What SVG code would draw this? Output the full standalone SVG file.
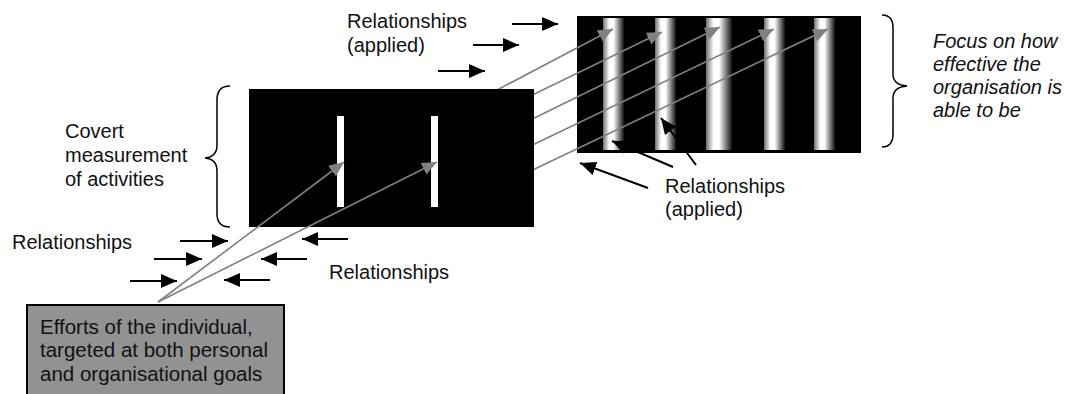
<svg xmlns="http://www.w3.org/2000/svg" width="1074" height="394" viewBox="0 0 1074 394">
<style>
text{font-family:"Liberation Sans",Arial,Helvetica,sans-serif;font-size:20px;fill:#111}
.it{font-style:italic}
.blk{stroke:#000;stroke-width:2;fill:none}
.gry{stroke:#808080;stroke-width:1.6;fill:none}
.brace{stroke:#000;stroke-width:1.5;fill:none}
.bar{fill:url(#stripe)}
</style>
<defs>
<linearGradient id="stripe" x1="0" y1="0" x2="1" y2="0">
<stop offset="0" stop-color="#707070"/>
<stop offset="0.3" stop-color="#ffffff"/>
<stop offset="0.5" stop-color="#ffffff"/>
<stop offset="1" stop-color="#111111"/>
</linearGradient>
<marker id="ab" markerUnits="userSpaceOnUse" markerWidth="18" markerHeight="16" refX="16" refY="7" orient="auto">
<path d="M0,0 L16,7 L0,14 z" fill="#000"/>
</marker>
<marker id="ag" markerUnits="userSpaceOnUse" markerWidth="16" markerHeight="14" refX="15" refY="6.5" orient="auto">
<path d="M0,0 L15,6.5 L0,13 z" fill="#808080"/>
</marker>
</defs>

<g id="node-right-panel">
<rect x="577" y="16" width="284" height="137" fill="#000"/>
<rect class="bar" x="603" y="18" width="21" height="132"/>
<rect class="bar" x="655" y="18" width="21" height="132"/>
<rect class="bar" x="706" y="18" width="26" height="132"/>
<rect class="bar" x="764" y="18" width="21" height="132"/>
<rect class="bar" x="814" y="18" width="21" height="132"/>
</g>

<g id="connectors-hidden">
<line class="gry" x1="480" y1="99" x2="613" y2="29" marker-end="url(#ag)"/>
<line class="gry" x1="520" y1="101" x2="662" y2="32" marker-end="url(#ag)"/>
<line class="gry" x1="520" y1="125" x2="720" y2="27" marker-end="url(#ag)"/>
<line class="gry" x1="520" y1="151" x2="774" y2="29" marker-end="url(#ag)"/>
<line class="gry" x1="520" y1="176" x2="828" y2="29" marker-end="url(#ag)"/>
</g>

<g id="node-left-panel">
<rect x="249" y="89" width="285" height="138" fill="#000"/>
<rect x="337" y="116" width="7" height="91" fill="#fff"/>
<rect x="431" y="116" width="7" height="91" fill="#fff"/>
</g>

<g id="node-efforts">
<rect x="27" y="305" width="257" height="92" fill="#929292" stroke="#000" stroke-width="2"/>
<text x="40" y="334" style="font-size:20.5px">Efforts of the individual,</text>
<text x="40" y="357" style="font-size:20.5px">targeted at both personal</text>
<text x="40" y="381" style="font-size:20.5px">and organisational goals</text>
</g>

<g id="connectors">
<line class="gry" x1="158" y1="302" x2="344" y2="162" marker-end="url(#ag)"/>
<line class="gry" x1="158" y1="302" x2="437" y2="162" marker-end="url(#ag)"/>
<line class="blk" x1="512" y1="24" x2="558" y2="24" marker-end="url(#ab)"/>
<line class="blk" x1="473" y1="45" x2="519" y2="45" marker-end="url(#ab)"/>
<line class="blk" x1="438" y1="71" x2="485" y2="71" marker-end="url(#ab)"/>
<line class="blk" x1="180" y1="241" x2="228" y2="241" marker-end="url(#ab)"/>
<line class="blk" x1="154" y1="259" x2="202" y2="259" marker-end="url(#ab)"/>
<line class="blk" x1="130" y1="281" x2="177" y2="281" marker-end="url(#ab)"/>
<line class="blk" x1="348" y1="239" x2="302" y2="239" marker-end="url(#ab)"/>
<line class="blk" x1="307" y1="259" x2="261" y2="259" marker-end="url(#ab)"/>
<line class="blk" x1="270" y1="280" x2="224" y2="280" marker-end="url(#ab)"/>
<line class="blk" x1="648" y1="188" x2="580" y2="163" marker-end="url(#ab)"/>
<line class="blk" x1="673" y1="167" x2="612" y2="141" marker-end="url(#ab)"/>
<line class="blk" x1="696" y1="165" x2="661" y2="118" marker-end="url(#ab)"/>
</g>

<g id="brace-left">
<path class="brace" d="M230,86 Q217,86 217,100 L217,145 Q217,157 205,158 Q217,159 217,171 L217,214 Q217,227 230,227"/>
</g>
<g id="brace-right">
<path class="brace" d="M882,15 Q893,15 893,28 L893,74 Q893,85 907,86 Q893,87 893,98 L893,134 Q893,147 882,147"/>
</g>

<g id="labels">
<text x="347" y="28">Relationships</text>
<text x="347" y="52">(applied)</text>
<text x="65" y="138">Covert</text>
<text x="65" y="162">measurement</text>
<text x="65" y="186">of activities</text>
<text x="12" y="249">Relationships</text>
<text x="329" y="279">Relationships</text>
<text x="665" y="193">Relationships</text>
<text x="665" y="216">(applied)</text>
<text class="it" x="933" y="48">Focus on how</text>
<text class="it" x="933" y="71">effective the</text>
<text class="it" x="933" y="94">organisation is</text>
<text class="it" x="933" y="117">able to be</text>
</g>
</svg>
